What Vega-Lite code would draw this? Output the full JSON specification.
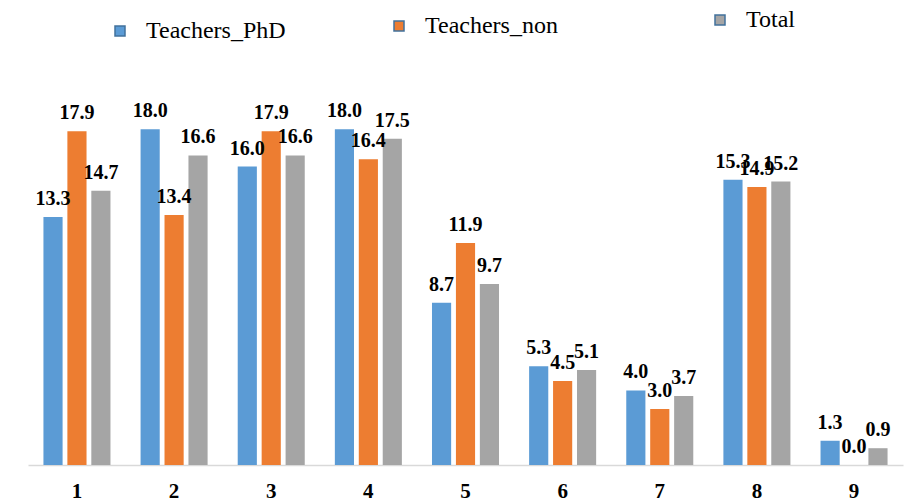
{
  "$schema": "https://vega.github.io/schema/vega-lite/v6.json",
  "width": 875,
  "height": 373,
  "autosize": {"type": "none"},
  "padding": {"left": 28, "top": 92, "right": 2, "bottom": 34},
  "background": "white",
  "config": {
    "view": {"stroke": null},
    "legend": {
      "labelFont": "Liberation Serif",
      "labelFontSize": 24,
      "labelColor": "black",
      "symbolType": "square",
      "symbolSize": 100,
      "symbolStrokeColor": "#41719c",
      "symbolStrokeWidth": 1.5,
      "padding": 0,
      "labelOffset": 14,
      "title": null
    }
  },
  "data": {
    "values": [
      {"cat": "1", "series": "Teachers_PhD", "value": 13.3},
      {"cat": "1", "series": "Teachers_non", "value": 17.9},
      {"cat": "1", "series": "Total", "value": 14.7},
      {"cat": "2", "series": "Teachers_PhD", "value": 18.0},
      {"cat": "2", "series": "Teachers_non", "value": 13.4},
      {"cat": "2", "series": "Total", "value": 16.6},
      {"cat": "3", "series": "Teachers_PhD", "value": 16.0},
      {"cat": "3", "series": "Teachers_non", "value": 17.9},
      {"cat": "3", "series": "Total", "value": 16.6},
      {"cat": "4", "series": "Teachers_PhD", "value": 18.0},
      {"cat": "4", "series": "Teachers_non", "value": 16.4},
      {"cat": "4", "series": "Total", "value": 17.5},
      {"cat": "5", "series": "Teachers_PhD", "value": 8.7},
      {"cat": "5", "series": "Teachers_non", "value": 11.9},
      {"cat": "5", "series": "Total", "value": 9.7},
      {"cat": "6", "series": "Teachers_PhD", "value": 5.3},
      {"cat": "6", "series": "Teachers_non", "value": 4.5},
      {"cat": "6", "series": "Total", "value": 5.1},
      {"cat": "7", "series": "Teachers_PhD", "value": 4.0},
      {"cat": "7", "series": "Teachers_non", "value": 3.0},
      {"cat": "7", "series": "Total", "value": 3.7},
      {"cat": "8", "series": "Teachers_PhD", "value": 15.3},
      {"cat": "8", "series": "Teachers_non", "value": 14.9},
      {"cat": "8", "series": "Total", "value": 15.2},
      {"cat": "9", "series": "Teachers_PhD", "value": 1.3},
      {"cat": "9", "series": "Teachers_non", "value": 0.0},
      {"cat": "9", "series": "Total", "value": 0.9}
    ]
  },
  "encoding": {
    "x": {
      "field": "cat",
      "type": "ordinal",
      "scale": {"paddingInner": 0.31, "paddingOuter": 0.159},
      "axis": {
        "title": null,
        "labelAngle": 0,
        "labelFont": "Liberation Serif",
        "labelFontWeight": "bold",
        "labelFontSize": 21,
        "labelColor": "black",
        "labelPadding": 15,
        "ticks": false,
        "domainColor": "#d9d9d9",
        "domainWidth": 1.5
      }
    },
    "xOffset": {
      "field": "series",
      "type": "nominal",
      "scale": {"domain": ["Teachers_PhD", "Teachers_non", "Total"], "paddingInner": 0.2, "paddingOuter": 0}
    },
    "y": {
      "field": "value",
      "type": "quantitative",
      "scale": {"domain": [0, 20], "nice": false},
      "axis": null
    }
  },
  "layer": [
    {
      "transform": [{"filter": "datum.series === 'Teachers_PhD'"}],
      "mark": {"type": "bar"},
      "encoding": {
        "color": {
          "field": "series",
          "type": "nominal",
          "scale": {"domain": ["Teachers_PhD"], "range": ["#5b9bd5"]},
          "legend": {"orient": "none", "legendX": 80, "legendY": -73, "labelFont": "Liberation Serif", "labelFontSize": 24}
        }
      }
    },
    {
      "transform": [{"filter": "datum.series === 'Teachers_non'"}],
      "mark": {"type": "bar"},
      "encoding": {
        "color": {
          "field": "series",
          "type": "nominal",
          "scale": {"domain": ["Teachers_non"], "range": ["#ed7d31"]},
          "legend": {"orient": "none", "legendX": 359, "legendY": -78, "labelFont": "Liberation Serif", "labelFontSize": 24}
        }
      }
    },
    {
      "transform": [{"filter": "datum.series === 'Total'"}],
      "mark": {"type": "bar"},
      "encoding": {
        "color": {
          "field": "series",
          "type": "nominal",
          "scale": {"domain": ["Total"], "range": ["#a5a5a5"]},
          "legend": {"orient": "none", "legendX": 680, "legendY": -84, "labelFont": "Liberation Serif", "labelFontSize": 24}
        }
      }
    },
    {
      "mark": {
        "type": "text",
        "font": "Liberation Serif",
        "fontWeight": "bold",
        "fontSize": 20,
        "color": "black",
        "baseline": "alphabetic",
        "dy": -12
      },
      "encoding": {
        "text": {"field": "value", "type": "quantitative", "format": ".1f"}
      }
    }
  ],
  "resolve": {"scale": {"color": "independent"}, "legend": {"color": "independent"}}
}
